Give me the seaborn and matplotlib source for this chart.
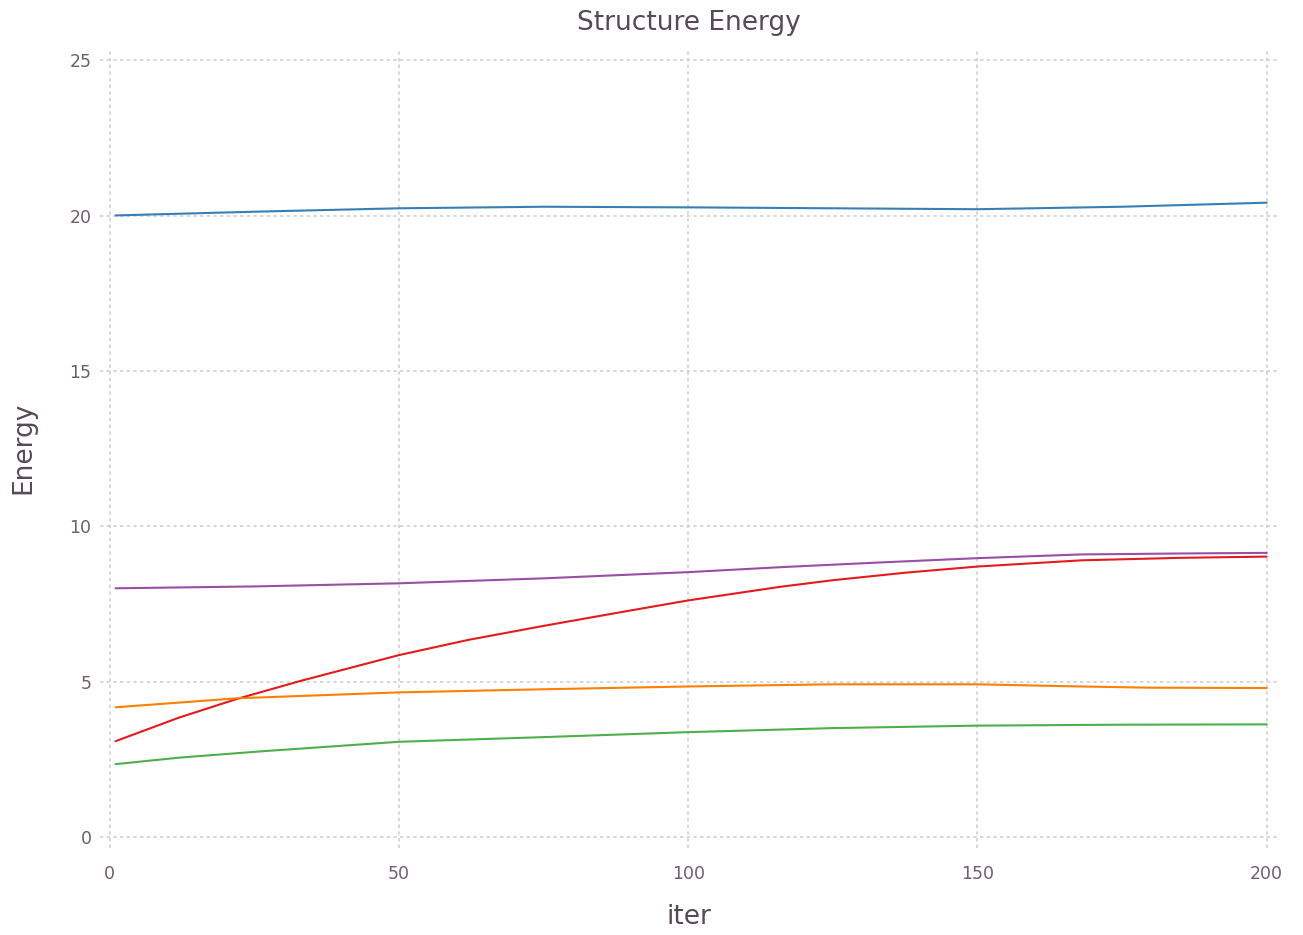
import matplotlib
matplotlib.use("Agg")
import matplotlib.pyplot as plt
import seaborn as sns
import pandas as pd

blue_x   = [1, 25, 50, 75, 100, 125, 150, 175, 200]
blue     = [20.01, 20.13, 20.24, 20.29, 20.27, 20.24, 20.21, 20.29, 20.42]
purple_x = [1, 25, 50, 75, 100, 116, 133, 150, 168, 185, 200]
purple   = [8.01, 8.07, 8.17, 8.33, 8.53, 8.69, 8.84, 8.98, 9.10, 9.13, 9.15]
red_x    = [1, 12, 22, 33, 50, 62, 75, 88, 100, 116, 125, 138, 150, 168, 185, 200]
red      = [3.09, 3.85, 4.45, 5.03, 5.86, 6.35, 6.80, 7.23, 7.62, 8.06, 8.27, 8.52, 8.71, 8.91, 8.99, 9.03]
orange_x = [1, 22, 50, 75, 100, 125, 150, 165, 180, 200]
orange   = [4.18, 4.47, 4.66, 4.76, 4.85, 4.92, 4.92, 4.86, 4.81, 4.80]
green_x  = [1, 12, 26, 50, 75, 100, 125, 150, 175, 200]
green    = [2.35, 2.56, 2.76, 3.07, 3.22, 3.38, 3.51, 3.59, 3.62, 3.63]

series = {"s1": (blue_x, blue), "s2": (purple_x, purple), "s3": (red_x, red),
          "s4": (orange_x, orange), "s5": (green_x, green)}
colors = {"s1": "#377eb8", "s2": "#984ea3", "s3": "#e41a1c", "s4": "#ff7f00", "s5": "#4daf4a"}

df = pd.concat([pd.DataFrame({"iter": xs, "Energy": ys, "series": k}) for k, (xs, ys) in series.items()])

sns.set_style("white")
plt.rcParams['font.family'] = ['DejaVu Sans']
fig = plt.figure(figsize=(13.03, 9.35), dpi=100)
ax = fig.add_axes([0.0767, 0.093, 0.9043, 0.8557])
sns.lineplot(data=df, x="iter", y="Energy", hue="series", palette=colors, ax=ax,
             legend=False, linewidth=1.5, zorder=3, sort=True)

ax.set_xlim(-1.7, 202)
ax.set_ylim(-0.35, 25.4)
ax.set_xticks([0, 50, 100, 150, 200])
ax.set_yticks([0, 5, 10, 15, 20, 25])
for s in ax.spines.values():
    s.set_visible(False)
ax.grid(True, color="#d0d0d8", linestyle=(0, (2, 2)), linewidth=1.2)
ax.tick_params(axis="both", length=0, labelsize=12.5, labelcolor="#6c606b")
ax.tick_params(axis="y", pad=6)
ax.tick_params(axis="x", pad=12)
ax.set_xlabel("iter", fontsize=19, color="#564a55", labelpad=15)
ax.set_ylabel("Energy", fontsize=19, color="#564a55", labelpad=24)
ax.set_title("Structure Energy", fontsize=19, color="#564a55", pad=13)
fig.savefig("out.png", dpi=100)
